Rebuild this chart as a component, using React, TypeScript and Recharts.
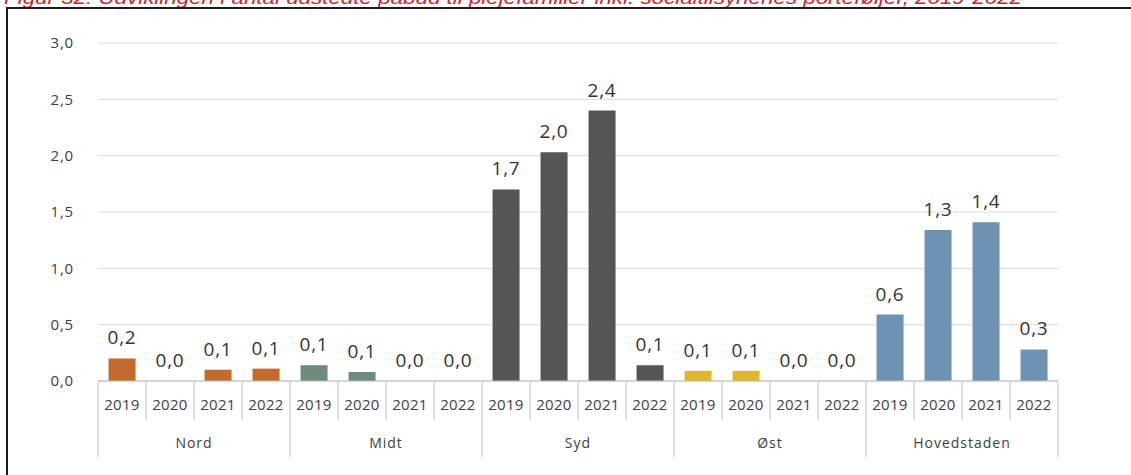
import React from "react";
import { ComposedChart, Bar, Line, XAxis, YAxis, CartesianGrid, Cell, LabelList } from "recharts";

const regions = ["Nord", "Midt", "Syd", "Øst", "Hovedstaden"];
const years = ["2019", "2020", "2021", "2022"];
const nordValues = [0.2, 0.0, 0.1, 0.11];
const midtValues = [0.14, 0.08, 0.0, 0.0];
const sydValues = [1.7, 2.03, 2.4, 0.14];
const ostValues = [0.09, 0.09, 0.0, 0.0];
const hovedstadenValues = [0.59, 1.34, 1.41, 0.28];
const regionColors = ["#c26a2b", "#6d8a7b", "#555555", "#e0b62c", "#6f91b3"];
const yTicks = [0, 0.5, 1, 1.5, 2, 2.5, 3];

const valuesByRegion = [nordValues, midtValues, sydValues, ostValues, hovedstadenValues];

const data = regions.flatMap((region, r) =>
  years.map((year, i) => ({
    key: `${region}-${year}`,
    region,
    year,
    value: valuesByRegion[r][i],
    color: regionColors[r],
  }))
);

const W = 1131;
const H = 475;
const MARGIN = { top: 43, right: 73, bottom: 0, left: 0 };
const Y_AXIS_W = 98;
const X_AXIS_H = 94;
const PLOT_W = W - MARGIN.left - MARGIN.right - Y_AXIS_W;
const BAND = PLOT_W / data.length;

const FONT = "'Open Sans', 'Noto Sans', sans-serif";
const fmt = (v: number) => v.toFixed(1).replace(".", ",");

// year labels + separators, and the region name under each group of four
function CategoryTick(props: any) {
  const { x, y, index } = props;
  const d = data[index];
  if (!d) return null;
  const left = x - BAND / 2;
  const right = x + BAND / 2;
  const groupStart = index % 4 === 0;
  const last = index === data.length - 1;
  return (
    <g>
      <line x1={left} x2={left} y1={y} y2={y + (groupStart ? 76 : 39)} stroke="#bfbfbf" />
      {last && <line x1={right} x2={right} y1={y} y2={y + 76} stroke="#bfbfbf" />}
      <text x={x} y={y + 29} textAnchor="middle" fontSize={15} fill="#404040" fontFamily={FONT} letterSpacing={0.3}>
        {d.year}
      </text>
      {index % 4 === 1 && (
        <text
          x={right}
          y={y + 67}
          textAnchor="middle"
          fontSize={14}
          fill="#404040"
          fontFamily={FONT}
          letterSpacing={1}
        >
          {d.region}
        </text>
      )}
    </g>
  );
}

export default function App() {
  return (
    <div style={{ position: "fixed", left: 0, top: 0, width: W, height: H, background: "#fff", overflow: "hidden" }}>
      <div style={{ position: "absolute", left: 0, top: 0 }}>
        <ComposedChart width={W} height={H} data={data} margin={MARGIN} barCategoryGap="22%">
          <CartesianGrid vertical={false} stroke="#d9d9d9" />
          <YAxis
            width={Y_AXIS_W}
            domain={[0, 3]}
            ticks={yTicks}
            tickFormatter={fmt}
            axisLine={false}
            tickLine={false}
            tickMargin={18}
            tick={{ fontSize: 15, fill: "#404040", fontFamily: FONT, letterSpacing: 0.8 }}
          />
          <XAxis
            dataKey="key"
            height={X_AXIS_H}
            interval={0}
            tickLine={false}
            tickSize={0}
            tickMargin={0}
            axisLine={{ stroke: "#bfbfbf" }}
            tick={<CategoryTick />}
          />
          <Bar dataKey="value" isAnimationActive={false}>
            {data.map((d) => (
              <Cell key={d.key} fill={d.color} />
            ))}
          </Bar>
          {/* invisible line only to carry the value labels (also for zero bars) */}
          <Line dataKey="value" stroke="none" dot={false} activeDot={false} isAnimationActive={false}>
            <LabelList
              dataKey="value"
              position="top"
              offset={14}
              formatter={(v: any) => fmt(Number(v))}
              style={{ fontSize: 19, fill: "#333333", fontFamily: FONT, letterSpacing: 0.8 }}
            />
          </Line>
        </ComposedChart>
      </div>
      <svg width={W} height={20} style={{ position: "absolute", left: 0, top: 0 }}>
        <text
          x={4}
          y={4}
          fontSize={19}
          fontStyle="italic"
          fill="#c8262d"
          fontFamily="'Liberation Sans', Arial, sans-serif"
          textLength={1018}
          lengthAdjust="spacingAndGlyphs"
        >
          Figur 32: Udviklingen i antal udstedte påbud til plejefamilier inkl. socialtilsynenes porteføljer, 2019-2022
        </text>
      </svg>
      <div style={{ position: "absolute", left: 6, top: 7, width: W - 6, height: 2, background: "#1a1a1a", zIndex: 2 }} />
      <div style={{ position: "absolute", left: 6, top: 7, width: 2, height: H - 7, background: "#1a1a1a", zIndex: 2 }} />
    </div>
  );
}
